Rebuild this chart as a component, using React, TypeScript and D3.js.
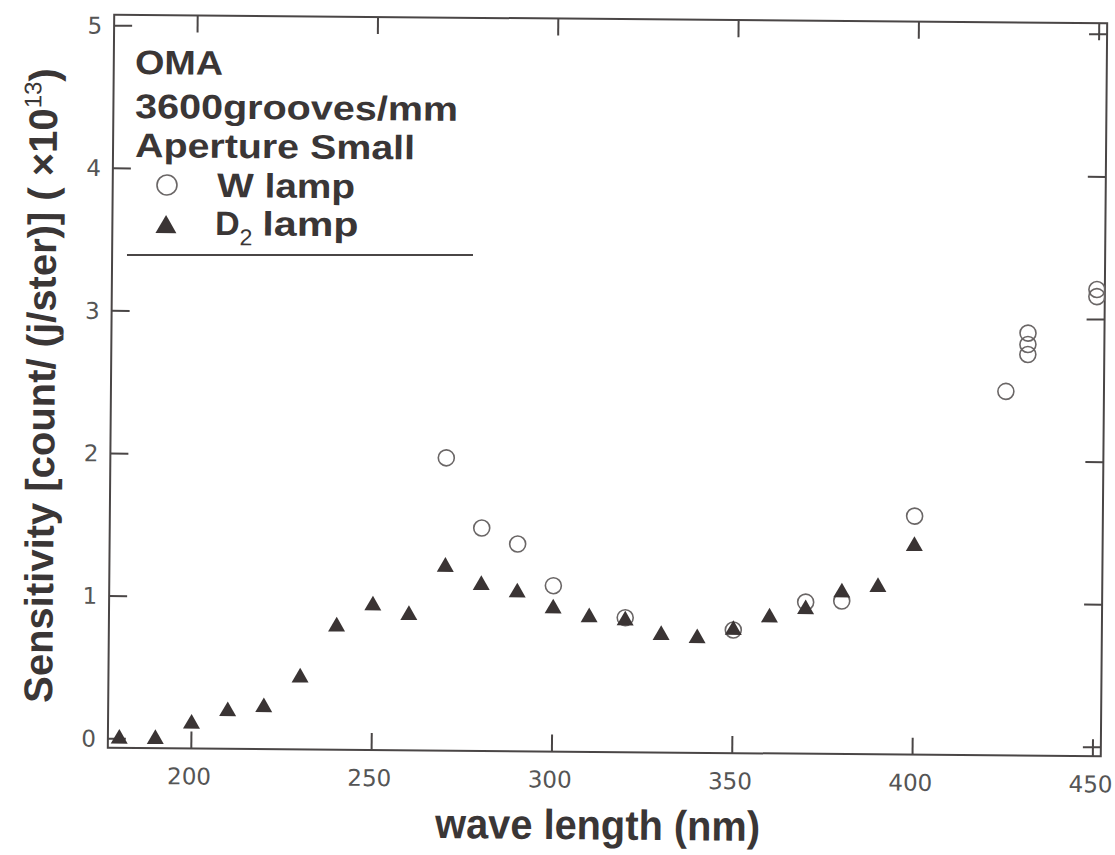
import React from "react";
import * as d3 from "d3";

// ---- data ----
const d2Wave = [180, 190, 200, 210, 220, 230, 240, 250, 260, 270, 280, 290, 300, 310, 320, 330, 340, 350, 360, 370, 380, 390, 400];
const d2Sens = [0.0, 0.0, 0.11, 0.2, 0.23, 0.44, 0.8, 0.95, 0.885, 1.225, 1.1, 1.05, 0.94, 0.88, 0.86, 0.76, 0.74, 0.8, 0.89, 0.95, 1.07, 1.11, 1.4];
const wWave = [270, 280, 290, 300, 320, 350, 370, 380, 400, 425, 431, 431, 431, 450, 450];
const wSens = [1.99, 1.5, 1.39, 1.1, 0.88, 0.8, 1.0, 1.01, 1.61, 2.49, 2.9, 2.82, 2.75, 3.21, 3.16];
const xTicks = [200, 250, 300, 350, 400, 450];
const yTicks = [0, 1, 2, 3, 4, 5];
const legendLines = ["OMA", "3600grooves/mm", "Aperture Small"];

const W = 1115;
const H = 855;
const ROT = 0.5;
const CX = 607;
const CY = 385;
const S = Math.sin((ROT * Math.PI) / 180);
// convert a screen position to the (slightly rotated) chart frame
const un = (sx: number, sy: number): [number, number] => {
  const dx = sx - CX;
  const dy = sy - CY;
  return [sx + dy * S, sy - dx * S];
};

const L = 111, R = 1104, T = 19, B = 752;
const x = d3.scaleLinear().domain([176.85, 452.2]).range([L, R]);
const y = d3.scaleLinear().domain([-0.063, 5.077]).range([B, T]);

const AX = "#4a4646";
const TXT = "#3a3636";
const FILL = "#3a3434";

const tri = d3.symbol().type(d3.symbolTriangle).size(125)()!;
const triLeg = d3.symbol().type(d3.symbolTriangle).size(190)()!;

export default function App() {
  const ytPos = un(52, 703);
  const xtPos = un(435, 838);
  const legPos = [un(135, 74), un(135, 118), un(135, 157)];
  const legLens = [88, 323, 280];
  const wc = un(167, 185);
  const wt = un(217, 197);
  const dc = un(166, 227);
  const dt = un(215, 235);
  const l1 = un(127, 255);
  const l2 = un(473, 255);
  return (
    <svg width={W} height={H} style={{ position: "absolute", left: 0, top: 0, background: "#fff" }}>
      <rect x={0} y={0} width={W} height={H} fill="#fff" />
      <g transform={`rotate(${ROT}, ${CX}, ${CY})`}>
        {/* frame */}
        <rect x={L} y={T} width={R - L} height={B - T} fill="none" stroke={AX} strokeWidth={2} />
        {/* x ticks bottom + top */}
        {xTicks.map((t) => (
          <g key={"xt" + t}>
            <line x1={x(t)} x2={x(t)} y1={B} y2={B - 17} stroke={AX} strokeWidth={2} />
            <line x1={x(t)} x2={x(t)} y1={T} y2={T + 17} stroke={AX} strokeWidth={2} />
            <text x={x(t) - 2} y={B + 36} textAnchor="middle" fontFamily="DejaVu Sans" fontSize={23} fill="#555">
              {t}
            </text>
          </g>
        ))}
        {/* y ticks left + right */}
        {yTicks.map((t) => (
          <g key={"yt" + t}>
            <line x1={L} x2={L + 18} y1={y(t)} y2={y(t)} stroke={AX} strokeWidth={2} />
            <line x1={R} x2={R - 18} y1={y(t)} y2={y(t)} stroke={AX} strokeWidth={2} />
            <text x={L - 12} y={y(t) + 8} textAnchor="end" fontFamily="DejaVu Sans" fontSize={23} fill="#555">
              {t}
            </text>
          </g>
        ))}
        {/* W lamp circles */}
        {wWave.map((v, i) => (
          <circle key={"w" + i} cx={x(v)} cy={y(wSens[i])} r={8} fill="none" stroke="#6a6666" strokeWidth={1.6} />
        ))}
        {/* D2 lamp triangles */}
        {d2Wave.map((v, i) => (
          <path key={"d" + i} d={tri} transform={`translate(${x(v)},${y(d2Sens[i])})`} fill={FILL} />
        ))}
        {/* legend */}
        {legendLines.map((s, i) => (
          <text
            key={s}
            x={legPos[i][0]}
            y={legPos[i][1]}
            fontFamily="Liberation Sans, Arial, sans-serif"
            fontWeight="bold"
            fontSize={34}
            fill={TXT}
            textLength={legLens[i]}
            lengthAdjust="spacingAndGlyphs"
          >
            {s}
          </text>
        ))}
        <circle cx={wc[0]} cy={wc[1]} r={10} fill="none" stroke="#6a6666" strokeWidth={1.6} />
        <text x={wt[0]} y={wt[1]} fontFamily="Liberation Sans, Arial, sans-serif" fontWeight="bold" fontSize={34} fill={TXT} textLength={138} lengthAdjust="spacingAndGlyphs">
          W lamp
        </text>
        <path d={triLeg} transform={`translate(${dc[0]},${dc[1]})`} fill={FILL} />
        <text x={dt[0]} y={dt[1]} fontFamily="Liberation Sans, Arial, sans-serif" fontWeight="bold" fontSize={34} fill={TXT}>
          D
          <tspan fontSize={23} dy={10} fontWeight="normal">2</tspan>
          <tspan dy={-10} dx={10} textLength={96} lengthAdjust="spacingAndGlyphs">lamp</tspan>
        </text>
        <line x1={l1[0]} y1={l1[1]} x2={l2[0]} y2={l2[1]} stroke={AX} strokeWidth={2} />
        {/* axis titles */}
        <text
          x={xtPos[0]}
          y={xtPos[1]}
          fontFamily="Liberation Sans, Arial, sans-serif"
          fontWeight="bold"
          fontSize={42}
          fill={TXT}
          textLength={325}
          lengthAdjust="spacingAndGlyphs"
        >
          wave length (nm)
        </text>
        <text
          transform={`translate(${ytPos[0]},${ytPos[1]}) rotate(-90)`}
          fontFamily="Liberation Sans, Arial, sans-serif"
          fontWeight="bold"
          fontSize={40}
          fill={TXT}
        >
          Sensitivity [count/ (j/ster)] ( ×10
          <tspan fontSize={24} dy={-16} fontWeight="normal">13</tspan>
          <tspan dy={16}>)</tspan>
        </text>
      </g>
    </svg>
  );
}
